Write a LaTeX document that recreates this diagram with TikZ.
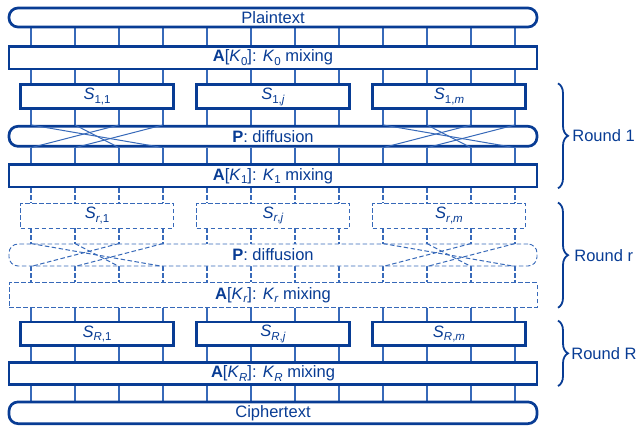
\documentclass[tikz,border=0pt]{standalone}
\usepackage{fontspec}
\setmainfont{Liberation Sans}
\usetikzlibrary{decorations.pathreplacing}
\definecolor{navy}{RGB}{8,60,148}
\definecolor{wirec}{RGB}{55,105,185}
\newcommand\lowsub[1]{\raisebox{-0.4ex}{\fontsize{11.5}{12}\selectfont #1}}
\pgfdeclarelayer{background}
\pgfsetlayers{background,main}
\begin{document}
\begin{tikzpicture}[x=1pt,y=-1pt,
  txt/.style={text=navy, font=\fontsize{16.5}{19}\selectfont, inner sep=0pt},
  solidbox/.style={txt, draw=navy, line width=2.7pt, fill=white},
  dashbox/.style={txt, draw=wirec, line width=0.9pt, dash pattern=on 4.5pt off 2.5pt, fill=white},
  pill/.style={rounded corners=9pt},
  wide/.style={minimum width=528pt},
  sbox/.style={minimum width=153pt},
  wire/.style={draw=wirec, line width=1.1pt},
  dwire/.style={wire, dash pattern=on 4.5pt off 2.5pt},
  xline/.style={draw=wirec, line width=1pt},
  dxline/.style={xline, dash pattern=on 4.5pt off 2.5pt},
  roundbrace/.style={draw=navy, line width=1.8pt, decorate,
    decoration={brace, amplitude=10pt}},
  roundlabel/.style={txt, anchor=west, inner sep=0pt, xshift=3.5pt}
]
\useasboundingbox (0,0) rectangle (638,426);

% wire columns
\foreach \k in {0,...,11} \coordinate (w\k) at (31+44*\k, 0);
\coordinate (bx) at (558,0);

% first round
\node[solidbox, pill, wide, minimum height=19pt] (plain) at (273,17.5) {Plaintext};
\node[solidbox, wide, minimum height=22.7pt] (a0) at (273,57.7)
  {\textbf{A}[\textit{K}\lowsub{0}]: \textit{K}\lowsub{0} mixing};
\foreach \n/\cx/\s in {a/97/1, b/273/\textit{j}, c/449/\textit{m}}
  \node[solidbox, sbox, minimum height=24pt] (s1\n) at (\cx,96.7) {\textit{S}\lowsub{1,\s}};
\node[solidbox, pill, wide, minimum height=20pt] (p1) at (273,136.3) {\textbf{P}: diffusion};
\node[solidbox, wide, minimum height=22.3pt] (a1) at (273,175.8)
  {\textbf{A}[\textit{K}\lowsub{1}]: \textit{K}\lowsub{1} mixing};

% generic round r
\foreach \n/\cx/\s in {a/97/1, b/273/\textit{j}, c/449/\textit{m}}
  \node[dashbox, sbox, minimum height=25pt] (sr\n) at (\cx,215.5) {\textit{S}\lowsub{\textit{r},\s}};
\node[dashbox, pill, wide, minimum height=22pt] (pr) at (273,255) {\textbf{P}: diffusion};
\node[dashbox, wide, minimum height=24.6pt] (ar) at (273,295)
  {\textbf{A}[\textit{K}\lowsub{\textit{r}}]: \textit{K}\lowsub{\textit{r}} mixing};

% last round
\foreach \n/\cx/\s in {a/97/1, b/273/\textit{j}, c/449/\textit{m}}
  \node[solidbox, sbox, minimum height=23.7pt] (sR\n) at (\cx,333.8) {\textit{S}\lowsub{\textit{R},\s}};
\node[solidbox, wide, minimum height=22.4pt] (aR) at (273,373.5)
  {\textbf{A}[\textit{K}\lowsub{\textit{R}}]: \textit{K}\lowsub{\textit{R}} mixing};
\node[solidbox, pill, wide, minimum height=21.7pt] (cipher) at (273,412.8) {Ciphertext};

% wires between the layers
\begin{pgfonlayer}{background}
\foreach \k/\g in {0/a,1/a,2/a,3/a,4/b,5/b,6/b,7/b,8/c,9/c,10/c,11/c} {
  \draw[wire] (plain.south -| w\k) -- (a0.north -| w\k);
  \draw[wire] (a0.south -| w\k) -- (s1\g.north -| w\k);
  \draw[wire] (s1\g.south -| w\k) -- (p1.north -| w\k);
  \draw[wire] (p1.south -| w\k) -- (a1.north -| w\k);
  \draw[dwire] (a1.south -| w\k) -- (sr\g.north -| w\k);
  \draw[dwire] (sr\g.south -| w\k) -- (pr.north -| w\k);
  \draw[dwire] (pr.south -| w\k) -- (ar.north -| w\k);
  \draw[wire] (ar.south -| w\k) -- (sR\g.north -| w\k);
  \draw[wire] (sR\g.south -| w\k) -- (aR.north -| w\k);
  \draw[wire] (aR.south -| w\k) -- (cipher.north -| w\k);
}
\end{pgfonlayer}

% diffusion wiring inside the permutation layers
\foreach \a/\b in {0/3,1/2,2/0,3/1,8/11,9/10,10/8,11/9} {
  \draw[xline] (p1.north -| w\a) -- (p1.south -| w\b);
  \draw[dxline] (pr.north -| w\a) -- (pr.south -| w\b);
}

% round braces
\draw[roundbrace] (s1a.north -| bx) -- (a1.south -| bx)
  node[roundlabel, midway, xshift=10pt] (lab1) {Round 1};
\draw[roundbrace] (sra.north -| bx) -- (ar.south -| bx)
  node[roundlabel, midway, xshift=12pt] (labr) {Round r};
\draw[roundbrace] (sRa.north -| bx) -- (aR.south -| bx)
  node[roundlabel, midway, xshift=9pt] (labR) {Round R};
\end{tikzpicture}
\end{document}
